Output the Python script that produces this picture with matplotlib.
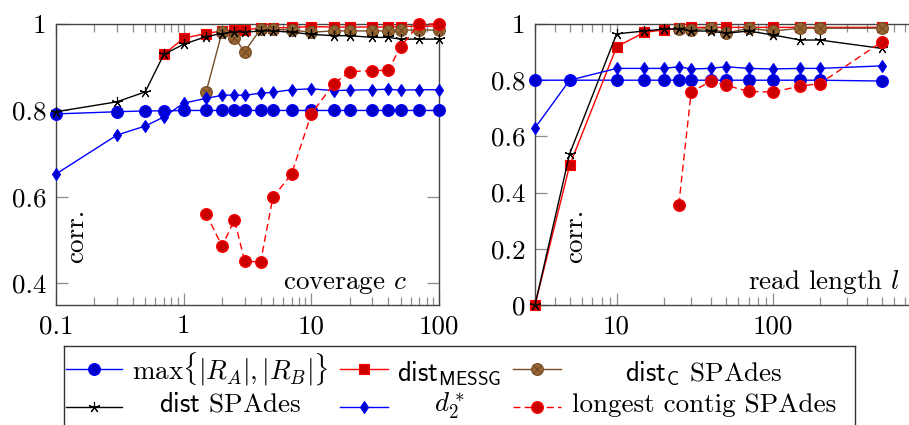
import numpy as np
import matplotlib
matplotlib.use('Agg')
import matplotlib.pyplot as plt
from matplotlib.ticker import FixedLocator, FixedFormatter, LogLocator, NullFormatter

plt.rcParams['font.family'] = 'cmr10'
plt.rcParams['mathtext.fontset'] = 'cm'
plt.rcParams['axes.formatter.use_mathtext'] = True

nan = np.nan

# ---------------- data: coverage (left) ----------------
cov_x = [0.1, 0.3, 0.5, 0.7, 1, 1.5, 2, 2.5, 3, 4, 5, 7, 10, 15, 20, 30, 40, 50, 70, 100]
cov_maxR = [0.792, 0.797, 0.799, 0.799, 0.800, 0.800, 0.800, 0.800, 0.800, 0.800,
            0.800, 0.800, 0.800, 0.800, 0.800, 0.800, 0.800, 0.800, 0.800, 0.800]
cov_messg = [nan, nan, nan, 0.930, 0.967, 0.978, 0.984, 0.986, 0.987, 0.990,
             0.991, 0.992, 0.994, 0.993, 0.993, 0.993, 0.993, 0.994, 0.995, 0.995]
cov_distC = [nan, nan, nan, nan, nan, 0.843, 0.982, 0.968, 0.936, 0.988,
             0.988, 0.986, 0.981, 0.984, 0.984, 0.984, 0.984, 0.986, 0.986, 0.986]
cov_dist = [0.797, 0.820, 0.843, 0.930, 0.953, 0.971, 0.978, 0.982, 0.981, 0.984,
            0.984, 0.981, 0.976, 0.973, 0.973, 0.969, 0.969, 0.965, 0.965, 0.965]
cov_d2 = [0.653, 0.743, 0.764, 0.785, 0.817, 0.828, 0.835, 0.836, 0.835, 0.840,
          0.842, 0.848, 0.850, 0.846, 0.847, 0.848, 0.849, 0.847, 0.848, 0.848]
cov_longest = [nan, nan, nan, nan, nan, 0.561, 0.486, 0.547, 0.452, 0.449,
               0.599, 0.653, 0.792, 0.862, 0.890, 0.892, 0.893, 0.947, 1.000, 1.000]

# ---------------- data: read length (right) ----------------
len_x = [3, 5, 10, 15, 20, 25, 30, 40, 50, 70, 100, 150, 200, 500]
len_maxR = [0.800, 0.800, 0.800, 0.800, 0.800, 0.800, 0.800, 0.800, 0.800, 0.800,
            0.800, 0.800, 0.800, 0.797]
len_messg = [0.000, 0.497, 0.919, 0.970, 0.979, 0.985, 0.988, 0.988, 0.988, 0.988,
             0.988, 0.988, 0.988, 0.988]
len_distC = [nan, nan, nan, nan, nan, 0.982, 0.979, 0.985, 0.967, 0.985,
             0.975, 0.985, 0.985, 0.985]
len_dist = [0.000, 0.538, 0.965, 0.975, 0.982, 0.982, 0.975, 0.975, 0.967, 0.975,
            0.961, 0.943, 0.943, 0.913]
len_d2 = [0.630, 0.800, 0.842, 0.842, 0.842, 0.848, 0.840, 0.842, 0.848, 0.842,
          0.840, 0.842, 0.842, 0.851]
len_longest = [nan, nan, nan, nan, nan, 0.357, 0.758, 0.796, 0.782, 0.760,
               0.758, 0.779, 0.788, 0.937]

labels = [r'$\max\{|R_A|,|R_B|\}$', r'$\mathsf{dist}_{\mathsf{MESSG}}$',
          r'$\mathsf{dist}_{\mathsf{C}}$ SPAdes', r'$\mathsf{dist}$ SPAdes',
          r'$d_2^*$', 'longest contig SPAdes']

BLUE, BLUEF = '#0000FF', '#0000CC'
RED, REDF = '#FF0000', '#CC0000'
BROWN, BROWNF = '#734D26', '#996633'

styles = [
    dict(color=BLUE, marker='o', ms=8.5, mfc=BLUEF, mec=BLUE, ls='-'),
    dict(color=RED, marker='s', ms=7.5, mfc=REDF, mec=RED, ls='-'),
    dict(color=BROWN, marker='o', ms=8.5, mfc=BROWNF, mec=BROWN, ls='-'),
    dict(color='black', marker=(5, 2, 0), ms=8, mec='black', ls='-'),
    dict(color=BLUE, marker='d', ms=6.5, mfc=BLUEF, mec=BLUE, ls='-'),
    dict(color=RED, marker='o', ms=8.5, mfc=REDF, mec=RED, ls=(0, (5, 3))),
]
FS = 19.5
LW = 1.0

W, H = 909, 425
fig = plt.figure(figsize=(W / 100, H / 100), dpi=100)


def draw(ax, x, series):
    for i, (y, st) in enumerate(zip(series, styles)):
        st = dict(st)
        ls = st.pop('ls')
        ax.plot(x, y, linestyle=ls, lw=LW, mew=0.8, clip_on=False, zorder=3, **st)
        if i == 2:
            ax.plot(x, y, linestyle='none', marker='x', ms=5.5, mew=0.9,
                    color=BROWN, clip_on=False, zorder=3)


def style_axes(ax):
    ax.set_xscale('log')
    for s in ax.spines.values():
        s.set_color('#444444')
        s.set_linewidth(1.0)
    ax.tick_params(which='both', direction='in', top=True, right=True,
                   color='#8c8c8c', labelsize=FS, width=0.9)
    ax.tick_params(which='major', length=8.5, pad=7)
    ax.tick_params(which='minor', length=5.5)
    ax.xaxis.set_minor_locator(LogLocator(base=10, subs=np.arange(2, 10)))
    ax.xaxis.set_minor_formatter(NullFormatter())


# left
ax1 = fig.add_axes([56 / W, 120 / H, 383 / W, 281 / H])
style_axes(ax1)
draw(ax1, cov_x, [cov_maxR, cov_messg, cov_distC, cov_dist, cov_d2, cov_longest])
ax1.set_xlim(0.1, 100)
ax1.set_ylim(0.35, 1.0)
ax1.xaxis.set_major_locator(FixedLocator([0.1, 1, 10, 100]))
ax1.xaxis.set_major_formatter(FixedFormatter(['0.1', '1', '10', '100']))
ax1.yaxis.set_major_locator(FixedLocator([0.4, 0.6, 0.8, 1.0]))
ax1.yaxis.set_major_formatter(FixedFormatter(['0.4', '0.6', '0.8', '1']))
ax1.text(0.052, 0.149, 'corr.', rotation=90, transform=ax1.transAxes,
         ha='center', va='bottom', fontsize=FS)
ax1.text(0.916, 0.057, 'coverage $c$', transform=ax1.transAxes,
         ha='right', va='baseline', fontsize=FS)

# right
ax2 = fig.add_axes([535 / W, 120 / H, 394 / W, 281 / H])
style_axes(ax2)
draw(ax2, len_x, [len_maxR, len_messg, len_distC, len_dist, len_d2, len_longest])
ax2.set_xlim(3, 1000)
ax2.set_ylim(0, 1.0)
ax2.xaxis.set_major_locator(FixedLocator([10, 100, 1000]))
ax2.xaxis.set_major_formatter(FixedFormatter(['10', '100', '']))
ax2.yaxis.set_major_locator(FixedLocator([0, 0.2, 0.4, 0.6, 0.8, 1.0]))
ax2.yaxis.set_major_formatter(FixedFormatter(['0', '0.2', '0.4', '0.6', '0.8', '1']))
ax2.text(0.102, 0.149, 'corr.', rotation=90, transform=ax2.transAxes,
         ha='center', va='bottom', fontsize=FS)
ax2.text(0.926, 0.057, 'read length $l$', transform=ax2.transAxes,
         ha='right', va='baseline', fontsize=FS)

# legend (manual, centered text cells like pgfplots)
L0, L1, T0, T1 = 64, 855, 346, 445
axl = fig.add_axes([L0 / W, (H - T1) / H, (L1 - L0) / W, (T1 - T0) / H])
axl.set_xlim(L0, L1)
axl.set_ylim(T1, T0)
axl.set_xticks([])
axl.set_yticks([])
for s in axl.spines.values():
    s.set_color('#333333')
    s.set_linewidth(1.0)

handle_x = [(66, 122), (340, 388), (513, 561)]
text_cx = [230, 449.5, 704]
row_line_y = [369, 407]
row_base_y = [380, 412]
order = [0, 1, 2, 3, 4, 5]
for k, i in enumerate(order):
    r, c = divmod(k, 3)
    st = dict(styles[i])
    ls = st.pop('ls')
    x0, x1 = handle_x[c]
    y = row_line_y[r]
    axl.plot([x0, x1], [y, y], linestyle=ls, lw=LW, color=st['color'])
    st.pop('color')
    axl.plot([(x0 + x1) / 2], [y], linestyle='none', mew=0.8, **st)
    if i == 2:
        axl.plot([(x0 + x1) / 2], [y], linestyle='none', marker='x', ms=5.5,
                 mew=0.9, color=BROWN)
    axl.text(text_cx[c], row_base_y[r], labels[i], ha='center', va='baseline',
             fontsize=FS)

fig.savefig('out.png', dpi=100)
